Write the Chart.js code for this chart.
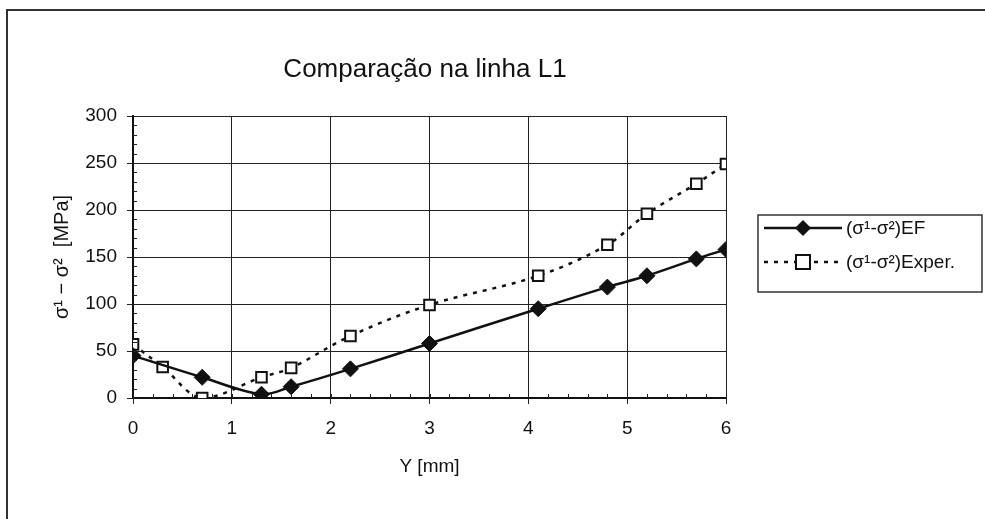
<!DOCTYPE html>
<html>
<head>
<meta charset="utf-8">
<script src="https://cdn.jsdelivr.net/npm/chart.js@4.4.0/dist/chart.umd.min.js"></script>
<style>
  html, body { margin: 0; padding: 0; background: #fff; }
  #wrap { position: relative; width: 985px; height: 519px; }
  #frame { position: absolute; left: 6px; top: 9px; right: -4px; bottom: -4px; border-left: 2px solid #333; border-top: 2px solid #333; pointer-events: none; }
</style>
</head>
<body>
<div id="wrap">
  <canvas id="chart" width="985" height="519"></canvas>
  <div id="frame"></div>
</div>
<script>
// Y [mm] positions
const efX = [0, 0.7, 1.3, 1.6, 2.2, 3, 4.1, 4.8, 5.2, 5.7, 6];
const efY = [45, 22, 4, 12, 31, 58, 95, 118, 130, 148, 158];
const expX = [0, 0.3, 0.7, 1.3, 1.6, 2.2, 3, 4.1, 4.8, 5.2, 5.7, 6];
const expY = [57, 33, 0, 22, 32, 66, 99, 130, 163, 196, 228, 249];
const seriesNames = ['(σ¹-σ²)EF', '(σ¹-σ²)Exper.'];
const chartTitle = 'Comparação na linha L1';
const xTicks = [0, 1, 2, 3, 4, 5, 6];
const yTicks = [0, 50, 100, 150, 200, 250, 300];

const FONT = 'Liberation Sans, Arial, sans-serif';

const toPoints = (xs, ys) => xs.map((x, i) => ({ x: x, y: ys[i] }));

// title, minor ticks + legend box drawn on the canvas
const extras = {
    id: 'extras',
    afterDraw(chart) {
        const ctx = chart.ctx;
        const xs = chart.scales.x, ys = chart.scales.y;
        const area = chart.chartArea;
        ctx.save();

        ctx.fillStyle = '#111';
        ctx.font = '26px ' + FONT;
        ctx.textAlign = 'center';
        ctx.textBaseline = 'middle';
        ctx.fillText(chartTitle, 425, 70);

        ctx.strokeStyle = '#222';
        ctx.lineWidth = 1;
        ctx.beginPath();
        for (let v = 0; v <= 6.001; v += 0.2) {
            const px = Math.round(xs.getPixelForValue(v)) + 0.5;
            ctx.moveTo(px, area.bottom);
            ctx.lineTo(px, area.bottom - 4);
        }
        for (let v = 0; v <= 300; v += 10) {
            const py = Math.round(ys.getPixelForValue(v)) + 0.5;
            ctx.moveTo(area.left, py);
            ctx.lineTo(area.left + 4, py);
        }
        ctx.stroke();

        // legend
        const bx = 758, by = 215, bw = 224, bh = 77;
        ctx.fillStyle = '#fff';
        ctx.fillRect(bx, by, bw, bh);
        ctx.strokeStyle = '#333';
        ctx.lineWidth = 1.5;
        ctx.strokeRect(bx, by, bw, bh);
        const rows = [228, 262];
        chart.data.datasets.forEach((ds, i) => {
            const y = rows[i];
            ctx.strokeStyle = '#111';
            ctx.lineWidth = ds.borderWidth;
            ctx.setLineDash(ds.borderDash || []);
            ctx.beginPath();
            ctx.moveTo(764, y);
            ctx.lineTo(842, y);
            ctx.stroke();
            ctx.setLineDash([]);
            ctx.lineWidth = ds.pointBorderWidth;
            ctx.fillStyle = ds.pointBackgroundColor;
            ctx.strokeStyle = ds.pointBorderColor;
            if (ds.pointStyle === 'rectRot') {
                ctx.beginPath();
                ctx.moveTo(803, y - 8);
                ctx.lineTo(811, y);
                ctx.lineTo(803, y + 8);
                ctx.lineTo(795, y);
                ctx.closePath();
                ctx.fill();
            } else {
                ctx.fillRect(796, y - 7, 14, 14);
                ctx.strokeRect(796, y - 7, 14, 14);
            }
            ctx.fillStyle = '#111';
            ctx.font = '19px ' + FONT;
            ctx.textBaseline = 'middle';
            ctx.textAlign = 'left';
            ctx.fillText(ds.label, 846, y + 1);
        });
        ctx.restore();
    }
};

new Chart(document.getElementById('chart'), {
    type: 'scatter',
    data: {
        datasets: [
            {
                label: seriesNames[0],
                data: toPoints(efX, efY),
                showLine: true,
                tension: 0.35,
                borderColor: '#111',
                borderWidth: 2.5,
                pointStyle: 'rectRot',
                pointRadius: 8,
                pointBackgroundColor: '#111',
                pointBorderColor: '#111',
                pointBorderWidth: 1
            },
            {
                label: seriesNames[1],
                data: toPoints(expX, expY),
                showLine: true,
                tension: 0.35,
                borderColor: '#111',
                borderWidth: 2.5,
                borderDash: [4, 6],
                pointStyle: 'rect',
                pointRadius: 7.5,
                pointBackgroundColor: '#fff',
                pointBorderColor: '#111',
                pointBorderWidth: 2
            }
        ]
    },
    options: {
        responsive: false,
        animation: false,
        layout: { padding: { left: 46, right: 259, top: 116, bottom: 41 } },
        plugins: {
            legend: { display: false },
            tooltip: { enabled: false },
            title: { display: false }
        },
        scales: {
            x: {
                type: 'linear',
                min: 0,
                max: 6,
                afterBuildTicks: (s) => { s.ticks = xTicks.map(v => ({ value: v })); },
                afterFit: (s) => { s.height = 80; },
                grid: { color: '#222', lineWidth: 1, tickLength: 6, drawTicks: true },
                border: { color: '#111', width: 2 },
                ticks: { color: '#111', font: { family: FONT, size: 19 }, padding: 13 },
                title: {
                    display: true,
                    text: 'Y [mm]',
                    color: '#111',
                    font: { family: FONT, size: 19 },
                    padding: { top: 0, bottom: 0 }
                }
            },
            y: {
                type: 'linear',
                min: 0,
                max: 300,
                afterBuildTicks: (s) => { s.ticks = yTicks.map(v => ({ value: v })); },
                afterFit: (s) => { s.width = 87; },
                grid: { color: '#222', lineWidth: 1, tickLength: 6 },
                border: { color: '#111', width: 2 },
                ticks: { color: '#111', font: { family: FONT, size: 19 }, padding: 10 },
                title: {
                    display: true,
                    text: 'σ¹ − σ²  [MPa]',
                    color: '#111',
                    font: { family: FONT, size: 20 },
                    padding: { top: 4, bottom: 0 }
                }
            }
        }
    },
    plugins: [extras]
});
</script>
</body>
</html>
